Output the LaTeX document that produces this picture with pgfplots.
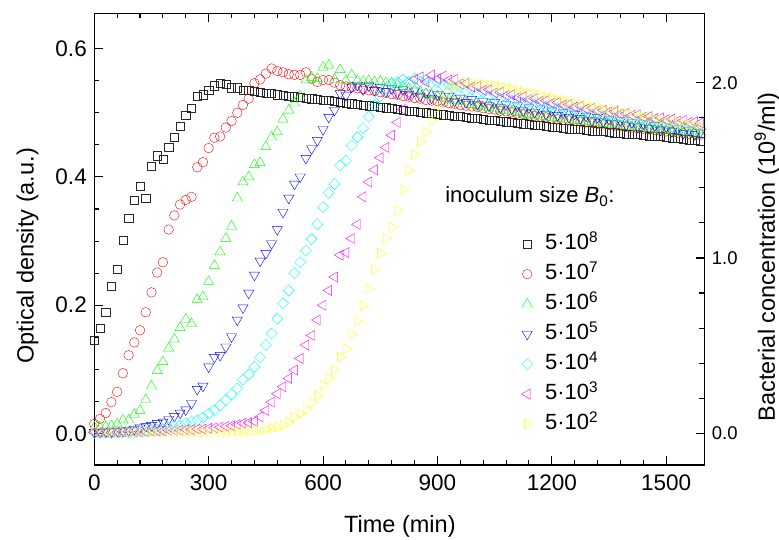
\documentclass[border=0pt]{standalone}
\usepackage{fontspec}
\setmainfont{Liberation Sans}
\usepackage{pgfplots}
\usepackage{pgfplotstable}
\pgfplotsset{compat=1.18}
\definecolor{cblack}{RGB}{40,40,40}
\definecolor{cred}{RGB}{255,0,0}
\definecolor{cgreen}{RGB}{0,255,0}
\definecolor{cblue}{RGB}{0,0,255}
\definecolor{ccyan}{RGB}{0,255,255}
\definecolor{cmag}{RGB}{255,0,255}
\definecolor{cyel}{RGB}{255,255,0}
\pgfplotstableread{
t a b c d e f g
0 0.145 0.015 0.010 0.002 0.001 0.002 0.002
15 0.164 0.023 0.010 0.002 0.001 0.002 0.002
30 0.189 0.032 0.011 0.003 0.001 0.002 0.002
45 0.230 0.049 0.012 0.003 0.001 0.002 0.002
60 0.256 0.065 0.015 0.004 0.002 0.002 0.002
75 0.301 0.094 0.021 0.004 0.002 0.003 0.002
90 0.336 0.122 0.021 0.005 0.002 0.003 0.002
105 0.364 0.142 0.030 0.007 0.003 0.003 0.002
120 0.386 0.161 0.036 0.009 0.003 0.003 0.002
135 0.367 0.189 0.053 0.011 0.004 0.003 0.002
150 0.417 0.220 0.074 0.013 0.005 0.004 0.002
165 0.433 0.251 0.098 0.016 0.006 0.004 0.002
180 0.428 0.267 0.112 0.018 0.007 0.004 0.002
195 0.446 0.318 0.133 0.022 0.009 0.005 0.003
210 0.462 0.340 0.147 0.027 0.011 0.005 0.003
225 0.479 0.357 0.165 0.032 0.013 0.005 0.003
240 0.496 0.364 0.178 0.037 0.016 0.006 0.003
255 0.507 0.369 0.171 0.047 0.019 0.006 0.003
270 0.526 0.415 0.209 0.069 0.021 0.007 0.003
285 0.528 0.423 0.213 0.074 0.025 0.007 0.003
300 0.535 0.445 0.237 0.104 0.031 0.008 0.003
315 0.542 0.461 0.262 0.119 0.036 0.009 0.003
330 0.546 0.463 0.283 0.122 0.044 0.010 0.003
345 0.544 0.477 0.304 0.135 0.052 0.011 0.003
360 0.539 0.487 0.323 0.151 0.061 0.012 0.003
375 0.539 0.500 0.367 0.177 0.070 0.014 0.003
390 0.535 0.512 0.392 0.196 0.084 0.016 0.003
405 0.535 0.522 0.400 0.219 0.092 0.017 0.004
420 0.533 0.546 0.419 0.247 0.104 0.019 0.004
435 0.532 0.552 0.422 0.269 0.119 0.026 0.005
450 0.531 0.561 0.447 0.281 0.138 0.036 0.006
465 0.530 0.569 0.462 0.296 0.156 0.049 0.008
480 0.528 0.565 0.470 0.318 0.179 0.062 0.010
495 0.527 0.563 0.490 0.345 0.203 0.073 0.013
510 0.526 0.560 0.504 0.367 0.223 0.086 0.018
525 0.525 0.559 0.515 0.389 0.250 0.099 0.026
540 0.524 0.559 0.526 0.400 0.267 0.117 0.031
555 0.523 0.563 0.551 0.429 0.285 0.138 0.038
570 0.522 0.553 0.555 0.444 0.303 0.153 0.048
585 0.521 0.548 0.553 0.457 0.326 0.177 0.060
600 0.520 0.551 0.571 0.474 0.353 0.200 0.075
615 0.519 0.551 0.574 0.493 0.375 0.223 0.086
630 0.518 0.547 0.552 0.504 0.389 0.244 0.099
645 0.516 0.543 0.567 0.530 0.418 0.278 0.119
660 0.515 0.541 0.550 0.527 0.425 0.282 0.132
675 0.514 0.540 0.559 0.540 0.449 0.304 0.155
690 0.513 0.538 0.550 0.543 0.462 0.326 0.175
705 0.512 0.537 0.549 0.536 0.476 0.369 0.199
720 0.511 0.535 0.550 0.542 0.494 0.392 0.226
735 0.510 0.534 0.548 0.535 0.512 0.411 0.255
750 0.509 0.532 0.549 0.540 0.525 0.430 0.281
765 0.508 0.531 0.547 0.533 0.538 0.446 0.304
780 0.507 0.529 0.546 0.538 0.546 0.465 0.322
795 0.505 0.528 0.544 0.531 0.548 0.485 0.348
810 0.504 0.526 0.541 0.536 0.552 0.505 0.380
825 0.503 0.525 0.538 0.529 0.548 0.530 0.410
840 0.502 0.523 0.535 0.534 0.553 0.552 0.435
855 0.501 0.522 0.533 0.526 0.549 0.556 0.455
870 0.500 0.520 0.530 0.531 0.551 0.548 0.470
885 0.499 0.519 0.528 0.523 0.546 0.559 0.488
900 0.498 0.518 0.526 0.528 0.548 0.553 0.508
915 0.497 0.516 0.524 0.520 0.542 0.557 0.522
930 0.496 0.515 0.521 0.526 0.544 0.551 0.538
945 0.495 0.514 0.519 0.518 0.538 0.552 0.543
960 0.494 0.512 0.517 0.523 0.540 0.545 0.546
975 0.493 0.511 0.515 0.516 0.534 0.546 0.547
990 0.492 0.510 0.513 0.521 0.536 0.540 0.546
1005 0.491 0.509 0.511 0.513 0.530 0.541 0.545
1020 0.490 0.507 0.509 0.518 0.532 0.535 0.544
1035 0.489 0.506 0.508 0.511 0.526 0.536 0.543
1050 0.488 0.505 0.506 0.516 0.528 0.531 0.542
1065 0.487 0.503 0.504 0.508 0.522 0.532 0.541
1080 0.486 0.502 0.503 0.513 0.524 0.527 0.539
1095 0.485 0.501 0.501 0.506 0.519 0.528 0.537
1110 0.484 0.499 0.500 0.511 0.521 0.524 0.535
1125 0.483 0.498 0.498 0.503 0.516 0.525 0.533
1140 0.482 0.497 0.497 0.508 0.518 0.521 0.531
1155 0.481 0.495 0.496 0.501 0.513 0.522 0.529
1170 0.480 0.494 0.494 0.506 0.515 0.518 0.527
1185 0.479 0.493 0.493 0.498 0.510 0.519 0.525
1200 0.478 0.491 0.492 0.503 0.512 0.515 0.523
1215 0.477 0.490 0.491 0.496 0.507 0.516 0.521
1230 0.476 0.489 0.490 0.500 0.509 0.512 0.519
1245 0.475 0.488 0.489 0.493 0.504 0.513 0.517
1260 0.474 0.487 0.488 0.498 0.506 0.509 0.515
1275 0.474 0.486 0.487 0.491 0.501 0.510 0.513
1290 0.473 0.485 0.486 0.495 0.503 0.506 0.511
1305 0.472 0.484 0.485 0.488 0.498 0.507 0.509
1320 0.471 0.483 0.484 0.493 0.500 0.503 0.507
1335 0.471 0.482 0.483 0.486 0.495 0.504 0.505
1350 0.470 0.481 0.482 0.490 0.497 0.501 0.503
1365 0.469 0.480 0.481 0.483 0.492 0.502 0.502
1380 0.468 0.479 0.480 0.488 0.494 0.498 0.500
1395 0.467 0.478 0.479 0.481 0.489 0.499 0.498
1410 0.467 0.477 0.478 0.485 0.491 0.496 0.497
1425 0.466 0.476 0.477 0.478 0.487 0.497 0.495
1440 0.465 0.475 0.476 0.483 0.489 0.493 0.494
1455 0.464 0.474 0.475 0.476 0.484 0.494 0.492
1470 0.463 0.473 0.474 0.480 0.486 0.491 0.490
1485 0.463 0.472 0.473 0.473 0.482 0.492 0.489
1500 0.462 0.471 0.472 0.478 0.484 0.489 0.487
1515 0.461 0.470 0.471 0.471 0.479 0.490 0.486
1530 0.460 0.469 0.470 0.475 0.481 0.487 0.484
1545 0.459 0.468 0.469 0.468 0.477 0.488 0.483
1560 0.458 0.467 0.468 0.473 0.479 0.485 0.481
1575 0.457 0.467 0.467 0.466 0.474 0.486 0.480
1590 0.456 0.466 0.466 0.470 0.476 0.484 0.478
}\data

\begin{document}
\begin{tikzpicture}
\path[use as bounding box] (-94.3pt,-75pt) rectangle (684.7pt,465pt);
\begin{axis}[
  scale only axis, width=610pt, height=451.7pt,
  xmin=0, xmax=1600, ymin=-0.049, ymax=0.655,
  xtick={0,300,...,1500}, minor x tick num=4,
  ytick={0,0.2,0.4,0.6}, minor y tick num=3,
  ytick pos=left, xtick pos=both,
  tick align=inside,
  major tick length=8.5pt, minor tick length=5pt,
  axis line style={line width=1.3pt, black},
  tick style={line width=1.1pt, black},
  /pgf/number format/assume math mode=true,
  /pgf/number format/1000 sep={},
  ticklabel style={font=\fontsize{22.5}{27}\selectfont},
  xticklabel style={yshift=-6pt},
  yticklabel style={xshift=-4pt, /pgf/number format/.cd, fixed, fixed zerofill, precision=1},
  xlabel={Time (min)}, ylabel={Optical density (a.u.)},
  label style={font=\fontsize{23.5}{28}\selectfont},
  xlabel style={at={(axis description cs:0.501,-0.1366)}, anchor=center},
  ylabel style={at={(axis description cs:-0.1095,0.463)}, anchor=center},
  only marks,
  every mark/.append style={line width=1.15pt},
  legend image code/.code={\draw[#1] plot coordinates {(0.3cm,0cm)};},
  legend cell align=left,
  legend style={draw=none, fill=none, at={(axis cs:1112,0.155)}, anchor=west,
    font=\fontsize{22}{26}\selectfont, row sep=9pt, column sep=10pt,
    nodes={text height=16pt, text depth=5pt, inner ysep=0pt}},
]
\addplot[cblack, mark=square, mark size=4.1pt] table[x=t,y=a] {\data};
\addlegendentry{5·10\textsuperscript{8}}
\addplot[cred, mark=o, mark size=4.8pt] table[x=t,y=b] {\data};
\addlegendentry{5·10\textsuperscript{7}}
\addplot[cgreen, mark=triangle, mark size=5.8pt] table[x=t,y=c] {\data};
\addlegendentry{5·10\textsuperscript{6}}
\addplot[cblue, mark=triangle, mark options={rotate=180}, mark size=5.8pt] table[x=t,y=d] {\data};
\addlegendentry{5·10\textsuperscript{5}}
\addplot[ccyan, mark=square, mark options={rotate=45}, mark size=3.9pt] table[x=t,y=e] {\data};
\addlegendentry{5·10\textsuperscript{4}}
\addplot[cmag, mark=triangle, mark options={rotate=90}, mark size=5.8pt] table[x=t,y=f] {\data};
\addlegendentry{5·10\textsuperscript{3}}
\addplot[cyel, mark=triangle, mark options={rotate=-90}, mark size=5.8pt] table[x=t,y=g] {\data};
\addlegendentry{5·10\textsuperscript{2}}
\node[anchor=west, font=\fontsize{22}{26}\selectfont, inner sep=0pt] at (axis cs:920,0.369) {inoculum size \textit{B}\textsubscript{0}:};
\end{axis}
\begin{axis}[
  scale only axis, width=610pt, height=451.7pt,
  xmin=0, xmax=1600, ymin=-0.181, ymax=2.396,
  axis x line=none, axis y line*=right,
  ytick={0,1,2}, minor y tick num=4,
  tick align=inside,
  major tick length=8.5pt, minor tick length=5pt,
  axis line style={line width=1.3pt, black},
  tick style={line width=1.1pt, black},
  /pgf/number format/assume math mode=true,
  yticklabel style={font=\fontsize{18.5}{22}\selectfont, xshift=4pt, /pgf/number format/.cd, fixed, fixed zerofill, precision=1},
  ylabel={Bacterial concentration (10\textsuperscript{9}/ml)},
  ylabel style={font=\fontsize{23.5}{28}\selectfont, at={(axis description cs:1.1028,0.4605)}, anchor=center, rotate=0},
]
\end{axis}
\end{tikzpicture}
\end{document}
